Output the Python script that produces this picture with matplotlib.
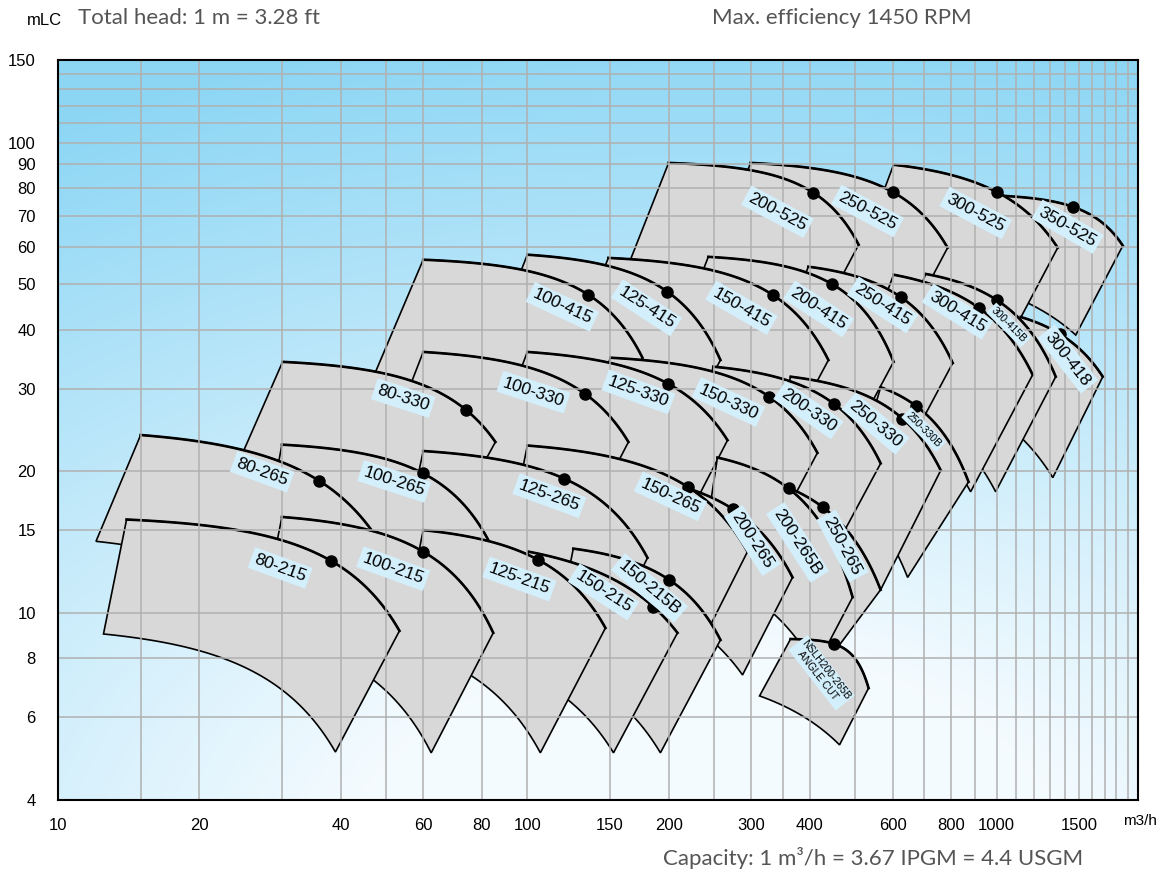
import numpy as np
import matplotlib
matplotlib.use("Agg")
import matplotlib.pyplot as plt
from matplotlib.patches import Polygon
from matplotlib.ticker import NullLocator

# pump tiles, listed in drawing order (back to front)
names = ["350-525", "300-525", "250-525", "200-525",
         "300-418", "300-415B", "300-415", "250-415", "200-415", "150-415", "125-415", "100-415",
         "250-330B", "250-330", "200-330", "150-330", "125-330", "100-330", "80-330",
         "250-265", "200-265B", "200-265", "150-265", "125-265", "100-265", "80-265",
         "150-215B", "150-215", "125-215", "100-215", "80-215",
         "NSLH200-265B\nANGLE CUT"]

# corners of each tile: top-left, top-right, bottom-right, bottom-left (m3/h, m)
tl_q = [902, 603, 299, 200, 1125, 706, 603, 397, 243, 148.8, 100, 60,
        566, 364, 249, 150.3, 100, 60, 30.1,
        322, 254.1, 126.6, 100, 60, 30, 15,
        125.3, 100.5, 60, 30, 14, 363.8]
tl_h = [77.5, 89.8, 90.6, 90.6, 42.6, 52.6, 52.4, 54.5, 57.2, 56.9, 57.8, 56.4,
        30.2, 31.8, 33.4, 34.9, 35.9, 35.9, 34.2,
        19.2, 21.4, 20.1, 22.7, 22.1, 22.8, 23.9,
        13.7, 13.5, 15.0, 16.0, 15.8, 8.80]
tr_q = [1857, 1349, 786, 508, 1683, 1336, 1193, 806, 603, 438, 257.9, 175.9,
        871, 760, 566, 415, 267, 164.2, 85.5,
        565.8, 493.2, 367.3, 294.5, 180.3, 85.5, 49.8,
        257.9, 208.9, 146.7, 84.6, 53.4, 533.4]
tr_h = [60.4, 59.8, 59.8, 60.7, 31.8, 31.8, 32.1, 34.0, 34.2, 34.5, 34.5, 34.9,
        19.0, 20.1, 20.8, 21.9, 23.3, 23.1, 23.1,
        11.2, 10.8, 11.9, 13.5, 13.1, 13.3, 13.5,
        8.76, 9.07, 9.29, 9.07, 9.16, 6.92]
br_q = [1474, 1071, 624, 403, 1317, 995, 880, 594, 445, 323, 190, 130,
        646, 566, 421, 309, 199.8, 123.5, 63.7,
        454, 411.2, 287.4, 228.1, 136.2, 63.7, 37.1,
        192.1, 152.6, 106.6, 62.4, 39.0, 462.6]
br_h = [39.0, 38.7, 38.7, 39.2, 19.4, 18.1, 18.1, 19.2, 19.4, 19.5, 19.5, 19.7,
        11.9, 11.2, 12.0, 12.6, 13.3, 13.3, 13.5,
        8.34, 7.64, 7.38, 8.14, 7.38, 7.64, 7.75,
        5.04, 5.04, 5.04, 5.04, 5.06, 5.24]
bl_q = [723, 488, 240, 158, 947, 566, 488, 314, 192, 117.6, 79.4, 46.5,
        488, 314, 212, 126.6, 83.4, 49.8, 24.4,
        284.6, 233.8, 114.7, 89.8, 53.6, 27.2, 12.05,
        111.9, 89.8, 53.6, 26.8, 12.5, 312.4]
bl_h = [52.4, 51.1, 51.1, 49.9, 27.0, 29.8, 29.8, 30.5, 31.3, 31.6, 32.1, 31.0,
        18.3, 19.2, 20.1, 21.2, 22.2, 22.2, 21.2,
        12.0, 12.3, 11.75, 13.3, 12.96, 13.5, 14.2,
        7.83, 7.75, 8.55, 9.11, 9.02, 6.66]

# max efficiency point on the full-impeller curve
dot_q = [1452, 1000, 600, 407, 1363, 1000, 915, 624, 445, 333, 198.9, 134.9,
         672, 630, 451, 328, 199.8, 133, 74.1,
         425.6, 360.2, 274.9, 220.4, 119.9, 60, 36,
         200.8, 185.7, 105.6, 60, 38.2, 449.2]
dot_h = [73.1, 78.6, 78.6, 78.3, 39.2, 46.3, 44.6, 47.0, 50.1, 47.5, 48.2, 47.5,
         27.6, 25.9, 27.8, 28.8, 30.7, 29.2, 27.0,
         16.8, 18.4, 16.6, 18.5, 19.3, 19.8, 19.1,
         11.75, 10.3, 12.96, 13.5, 12.9, 8.60]

# label placement (pixels from the dot) and angle
lab_dx = [-5, -21, -25, -36, 8, 12, -21, -18, -13, -31, -21, -26,
          8, -27, -26, -41, -30, -52, -63,
          20, 9, 19, -18, -15, -29, -57,
          -20, -50, -19, -30, -51, -12]
lab_dy = [-20, -21, -19, -19, -25, -25, -4, -8, -25, -13, -16, -12,
          -24, -5, -6, -5, -8, 2, 12,
          -39, -54, -31, -9, -17, -8, 9,
          -8, 15, -19, -17, -7, -29]
lab_rot = [-30, -28, -28, -28, -52, -45, -32, -33, -33, -30, -33, -25,
           -45, -40, -35, -25, -20, -18, -18,
           -62, -57, -57, -25, -20, -18, -20,
           -40, -33, -20, -20, -20, -52]
lab_size = [12.5] * 32
lab_size[names.index("300-415B")] = 7.5
lab_size[names.index("250-330B")] = 7.5
lab_size[-1] = 7.5

x_grid = [15, 20, 30, 40, 50, 60, 80, 100, 150, 200, 250, 300, 350, 400, 500, 600, 700,
          800, 900, 1000, 1100, 1200, 1300, 1400, 1500, 1600, 1700, 1800, 1900]
x_labels = [10, 20, 40, 60, 80, 100, 150, 200, 300, 400, 600, 800, 1000, 1500]
y_grid = [6, 8, 10, 15, 20, 30, 40, 50, 60, 70, 80, 90, 100, 110, 120, 130, 140]
y_labels = [4, 6, 8, 10, 15, 20, 30, 40, 50, 60, 70, 80, 90, 100, 150]


def pump_curve(q0, h0, q1, h1, p, n=80):
    # H = A - B*Q^p through both end points
    b = (h0 - h1) / (q1 ** p - q0 ** p)
    a = h0 + b * q0 ** p
    qs = np.geomspace(q0, q1, n)
    return qs, a - b * qs ** p


def top_curve(i):
    q0, h0, qd, hd, q1, h1 = tl_q[i], tl_h[i], dot_q[i], dot_h[i], tr_q[i], tr_h[i]
    r = (h0 - hd) / (h0 - h1)
    lo, hi = 0.5, 40.0
    for _ in range(60):
        p = 0.5 * (lo + hi)
        f = (qd ** p - q0 ** p) / (q1 ** p - q0 ** p)
        if f > r:
            lo = p
        else:
            hi = p
    return pump_curve(q0, h0, q1, h1, p)


def bottom_curve(i):
    return pump_curve(bl_q[i], bl_h[i], br_q[i], br_h[i], 2.0)


fig = plt.figure(figsize=(11.74, 8.73), dpi=100)
ax = fig.add_axes([0.0494, 0.0836, 0.9199, 0.8477])
ax.set_xscale("log")
ax.set_yscale("log")
ax.set_xlim(10, 2000)
ax.set_ylim(4, 150)

# sky gradient behind the chart
u, v = np.meshgrid(np.linspace(0, 1, 300), np.linspace(1, 0, 220))
d = np.sqrt(((u - 0.6) * 0.9) ** 2 + (v + 0.1) ** 2)
t = np.clip((d - 0.3) / 0.85, 0, 1)[..., None]
blue = np.array([0.55, 0.84, 0.96])
white = np.array([0.96, 0.985, 1.0])
ax.imshow(white + (blue - white) * t, extent=[0, 1, 0, 1], transform=ax.transAxes,
          aspect="auto", zorder=0, interpolation="bilinear")

for i, name in enumerate(names):
    qt, ht = top_curve(i)
    qb, hb = bottom_curve(i)
    pts = np.column_stack([np.concatenate([qt, qb[::-1]]), np.concatenate([ht, hb[::-1]])])
    z = 1 + i * 0.01
    ax.add_patch(Polygon(pts, closed=True, fc="#d8d8d8", ec="black", lw=1.2, zorder=z))
    ax.plot(qt, ht, color="black", lw=1.9, zorder=z + 0.005)
    ax.plot(dot_q[i], dot_h[i], "o", color="black", ms=8, zorder=3)
    ax.annotate(name, (dot_q[i], dot_h[i]), xytext=(lab_dx[i], lab_dy[i]),
                textcoords="offset pixels", rotation=lab_rot[i], ha="center", va="center",
                fontsize=lab_size[i], family="Liberation Sans", linespacing=1.0,
                bbox=dict(boxstyle="square,pad=0.2", fc="#d3effc", ec="none"), zorder=4)

ax.set_axisbelow(False)
ax.xaxis.set_minor_locator(NullLocator())
ax.yaxis.set_minor_locator(NullLocator())
xt = sorted(set(x_grid + x_labels))
yt = sorted(set(y_grid + y_labels))
ax.set_xticks(xt)
ax.set_xticklabels([str(v) if v in x_labels else "" for v in xt])
ax.set_yticks(yt)
ax.set_yticklabels([str(v) if v in y_labels else "" for v in yt])
ax.grid(True, color="#b0b0b0", lw=1.1)
ax.tick_params(length=0, labelsize=12)
ax.tick_params(axis="x", pad=13)
ax.tick_params(axis="y", pad=16)
for lab in ax.get_xticklabels() + ax.get_yticklabels():
    lab.set_family("Liberation Sans")
for s in ax.spines.values():
    s.set_linewidth(1.5)
    s.set_color("black")
    s.set_zorder(6)

head_font = dict(family=["Lato", "DejaVu Sans"], color="#555555", fontsize=16)
fig.text(0.038, 0.977, "mLC", family="Liberation Sans", fontsize=12, ha="center", va="center")
fig.text(0.0664, 0.979, "Total head: 1 m = 3.28 ft", va="center", **head_font)
fig.text(0.6065, 0.979, "Max. efficiency 1450 RPM", va="center", **head_font)
fig.text(0.5647, 0.0172, "Capacity: 1 m\u00b3/h = 3.67 IPGM = 4.4 USGM", va="center", **head_font)
fig.text(0.971, 0.06, "m3/h", family="Liberation Sans", fontsize=11, ha="center", va="center")

fig.savefig("out.png", dpi=100)
plt.close(fig)
